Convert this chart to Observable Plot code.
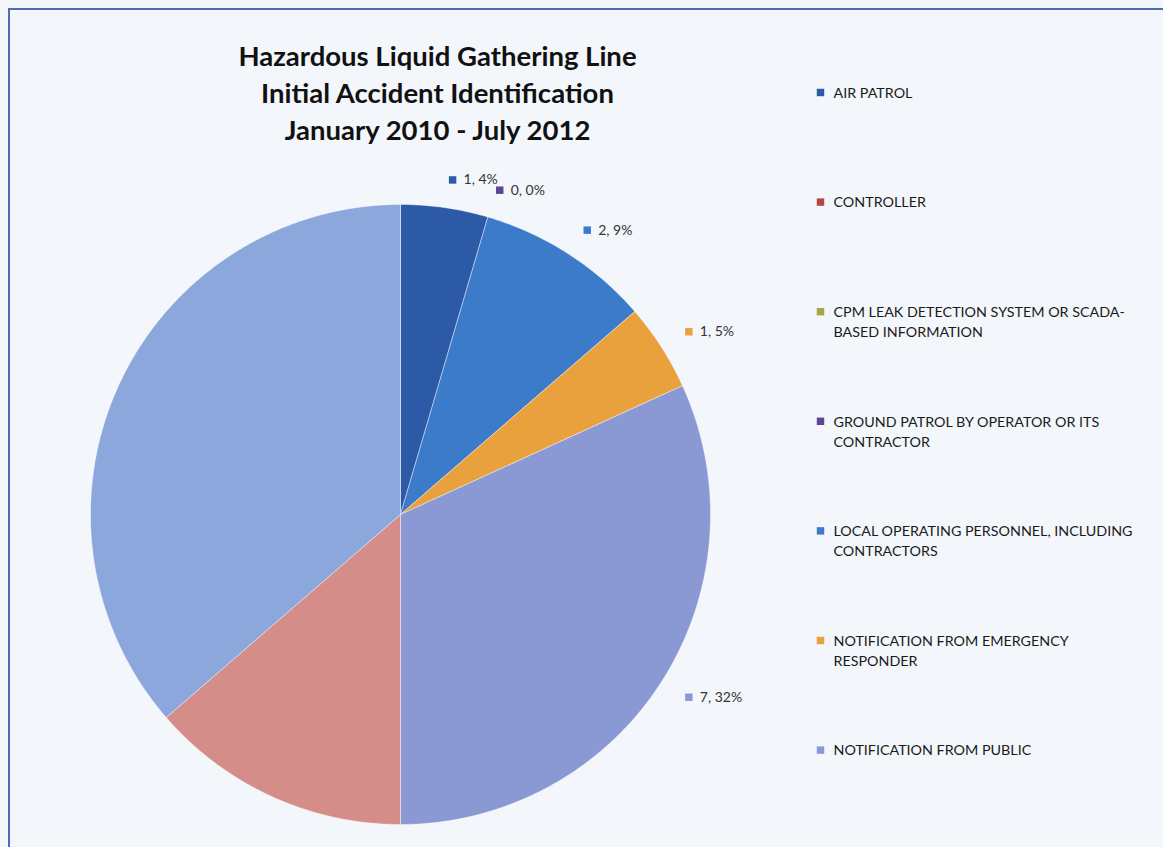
<!DOCTYPE html>
<html><head><meta charset="utf-8">
<script src="https://cdn.jsdelivr.net/npm/d3@7"></script>
<script src="https://cdn.jsdelivr.net/npm/@observablehq/plot@0.6"></script>
<style>
html,body{margin:0;padding:0;background:#F3F6FB;width:1163px;height:847px;overflow:hidden;}
#frame{position:absolute;left:8px;top:8px;width:1160px;height:845px;border-left:2.5px solid #4C6DB0;border-top:2.5px solid #4C6DB0;}
#chart{position:absolute;left:0;top:0;}
</style></head><body><div id="frame"></div><div id="chart"></div>
<script>
// ---- data ----
const titleLines = [
  "Hazardous Liquid Gathering Line",
  "Initial Accident Identification",
  "January 2010 - July 2012"
];
const categories = [
  "AIR PATROL",
  "CONTROLLER",
  "CPM LEAK DETECTION SYSTEM OR SCADA-BASED INFORMATION",
  "GROUND PATROL BY OPERATOR OR ITS CONTRACTOR",
  "LOCAL OPERATING PERSONNEL, INCLUDING CONTRACTORS",
  "NOTIFICATION FROM EMERGENCY RESPONDER",
  "NOTIFICATION FROM PUBLIC",
  "UNLISTED 8",
  "UNLISTED 9"
];
const counts = [1, null, null, 0, 2, 1, 7, 3, 8];
const percentLabels = ["4%", null, null, "0%", "9%", "5%", "32%", null, null];
const colors = ["#2D5AA7", "#B4483C", "#A3A548", "#5E4590", "#3B7BC9", "#E9A13E", "#8A98D4", "#D48D88", "#8CA7DC"];
const legendLabels = [
  "AIR PATROL",
  "CONTROLLER",
  "CPM LEAK DETECTION SYSTEM OR SCADA-\nBASED INFORMATION",
  "GROUND PATROL BY OPERATOR OR ITS\nCONTRACTOR",
  "LOCAL OPERATING PERSONNEL, INCLUDING\nCONTRACTORS",
  "NOTIFICATION FROM EMERGENCY\nRESPONDER",
  "NOTIFICATION FROM PUBLIC"
];

// ---- layout ----
const W = 1163, H = 847;
const cx = 400, cy = 514, R = 310, labelR = 338;
const legendX = 820, legendY0 = 92, legendStep = 109.6;
const font = "Lato, 'Open Sans', sans-serif";

const total = d3.sum(counts, d => d ?? 0);
const polar = (a, r) => ({x: cx + r * Math.sin(a), y: cy - r * Math.cos(a)});

const slicePts = [];
const labels = [];
let acc = 0;
categories.forEach((key, i) => {
  const v = counts[i];
  if (v == null) return;
  const a0 = acc / total * 2 * Math.PI;
  const a1 = (acc + v) / total * 2 * Math.PI;
  acc += v;
  if (v > 0) {
    const n = Math.max(2, Math.ceil((a1 - a0) / (Math.PI / 360)));
    slicePts.push({key, ...polar(0, 0)});
    for (let k = 0; k <= n; k++) slicePts.push({key, ...polar(a0 + (a1 - a0) * k / n, R)});
    slicePts.push({key, ...polar(0, 0)});
  }
  if (percentLabels[i] != null) {
    const p = polar((a0 + a1) / 2, labelR);
    labels.push({key, x: p.x, y: p.y, text: `${v}, ${percentLabels[i]}`});
  }
});

const legend = legendLabels.map((t, i) => ({key: categories[i], text: t, x: legendX, y: legendY0 + i * legendStep}));
const title = titleLines.map((t, i) => ({text: t, y: 57 + i * 36.7}));

const chart = Plot.plot({
  width: W, height: H, margin: 0,
  style: {background: "transparent", fontFamily: font},
  x: {domain: [0, W], range: [0, W], axis: null},
  y: {domain: [0, H], range: [0, H], axis: null},
  color: {domain: categories, range: colors},
  marks: [
    Plot.line(slicePts, {x: "x", y: "y", z: "key", fill: "key", stroke: "#ffffff", strokeWidth: 0.7, strokeOpacity: 0.6, curve: "linear"}),
    Plot.dot(labels, {x: d => d.x + 4, y: "y", symbol: "square", r: 4.2, fill: "key", stroke: null}),
    Plot.text(labels, {x: "x", y: "y", text: "text", dx: 15, textAnchor: "start", fontSize: 14, fill: "#333"}),
    Plot.dot(legend, {x: "x", y: "y", symbol: "square", r: 4.2, fill: "key", stroke: null}),
    Plot.text(legend, {x: "x", y: "y", text: "text", dx: 13, dy: -9, textAnchor: "start", lineAnchor: "top", lineHeight: 1.4, fontSize: 14.3, fill: "#1a1a1a"}),
    Plot.text(title, {x: () => 437, y: "y", text: "text", fontSize: 27.5, fontWeight: "bold", fill: "#111"})
  ]
});
document.getElementById("chart").appendChild(chart);
</script>
</body></html>
